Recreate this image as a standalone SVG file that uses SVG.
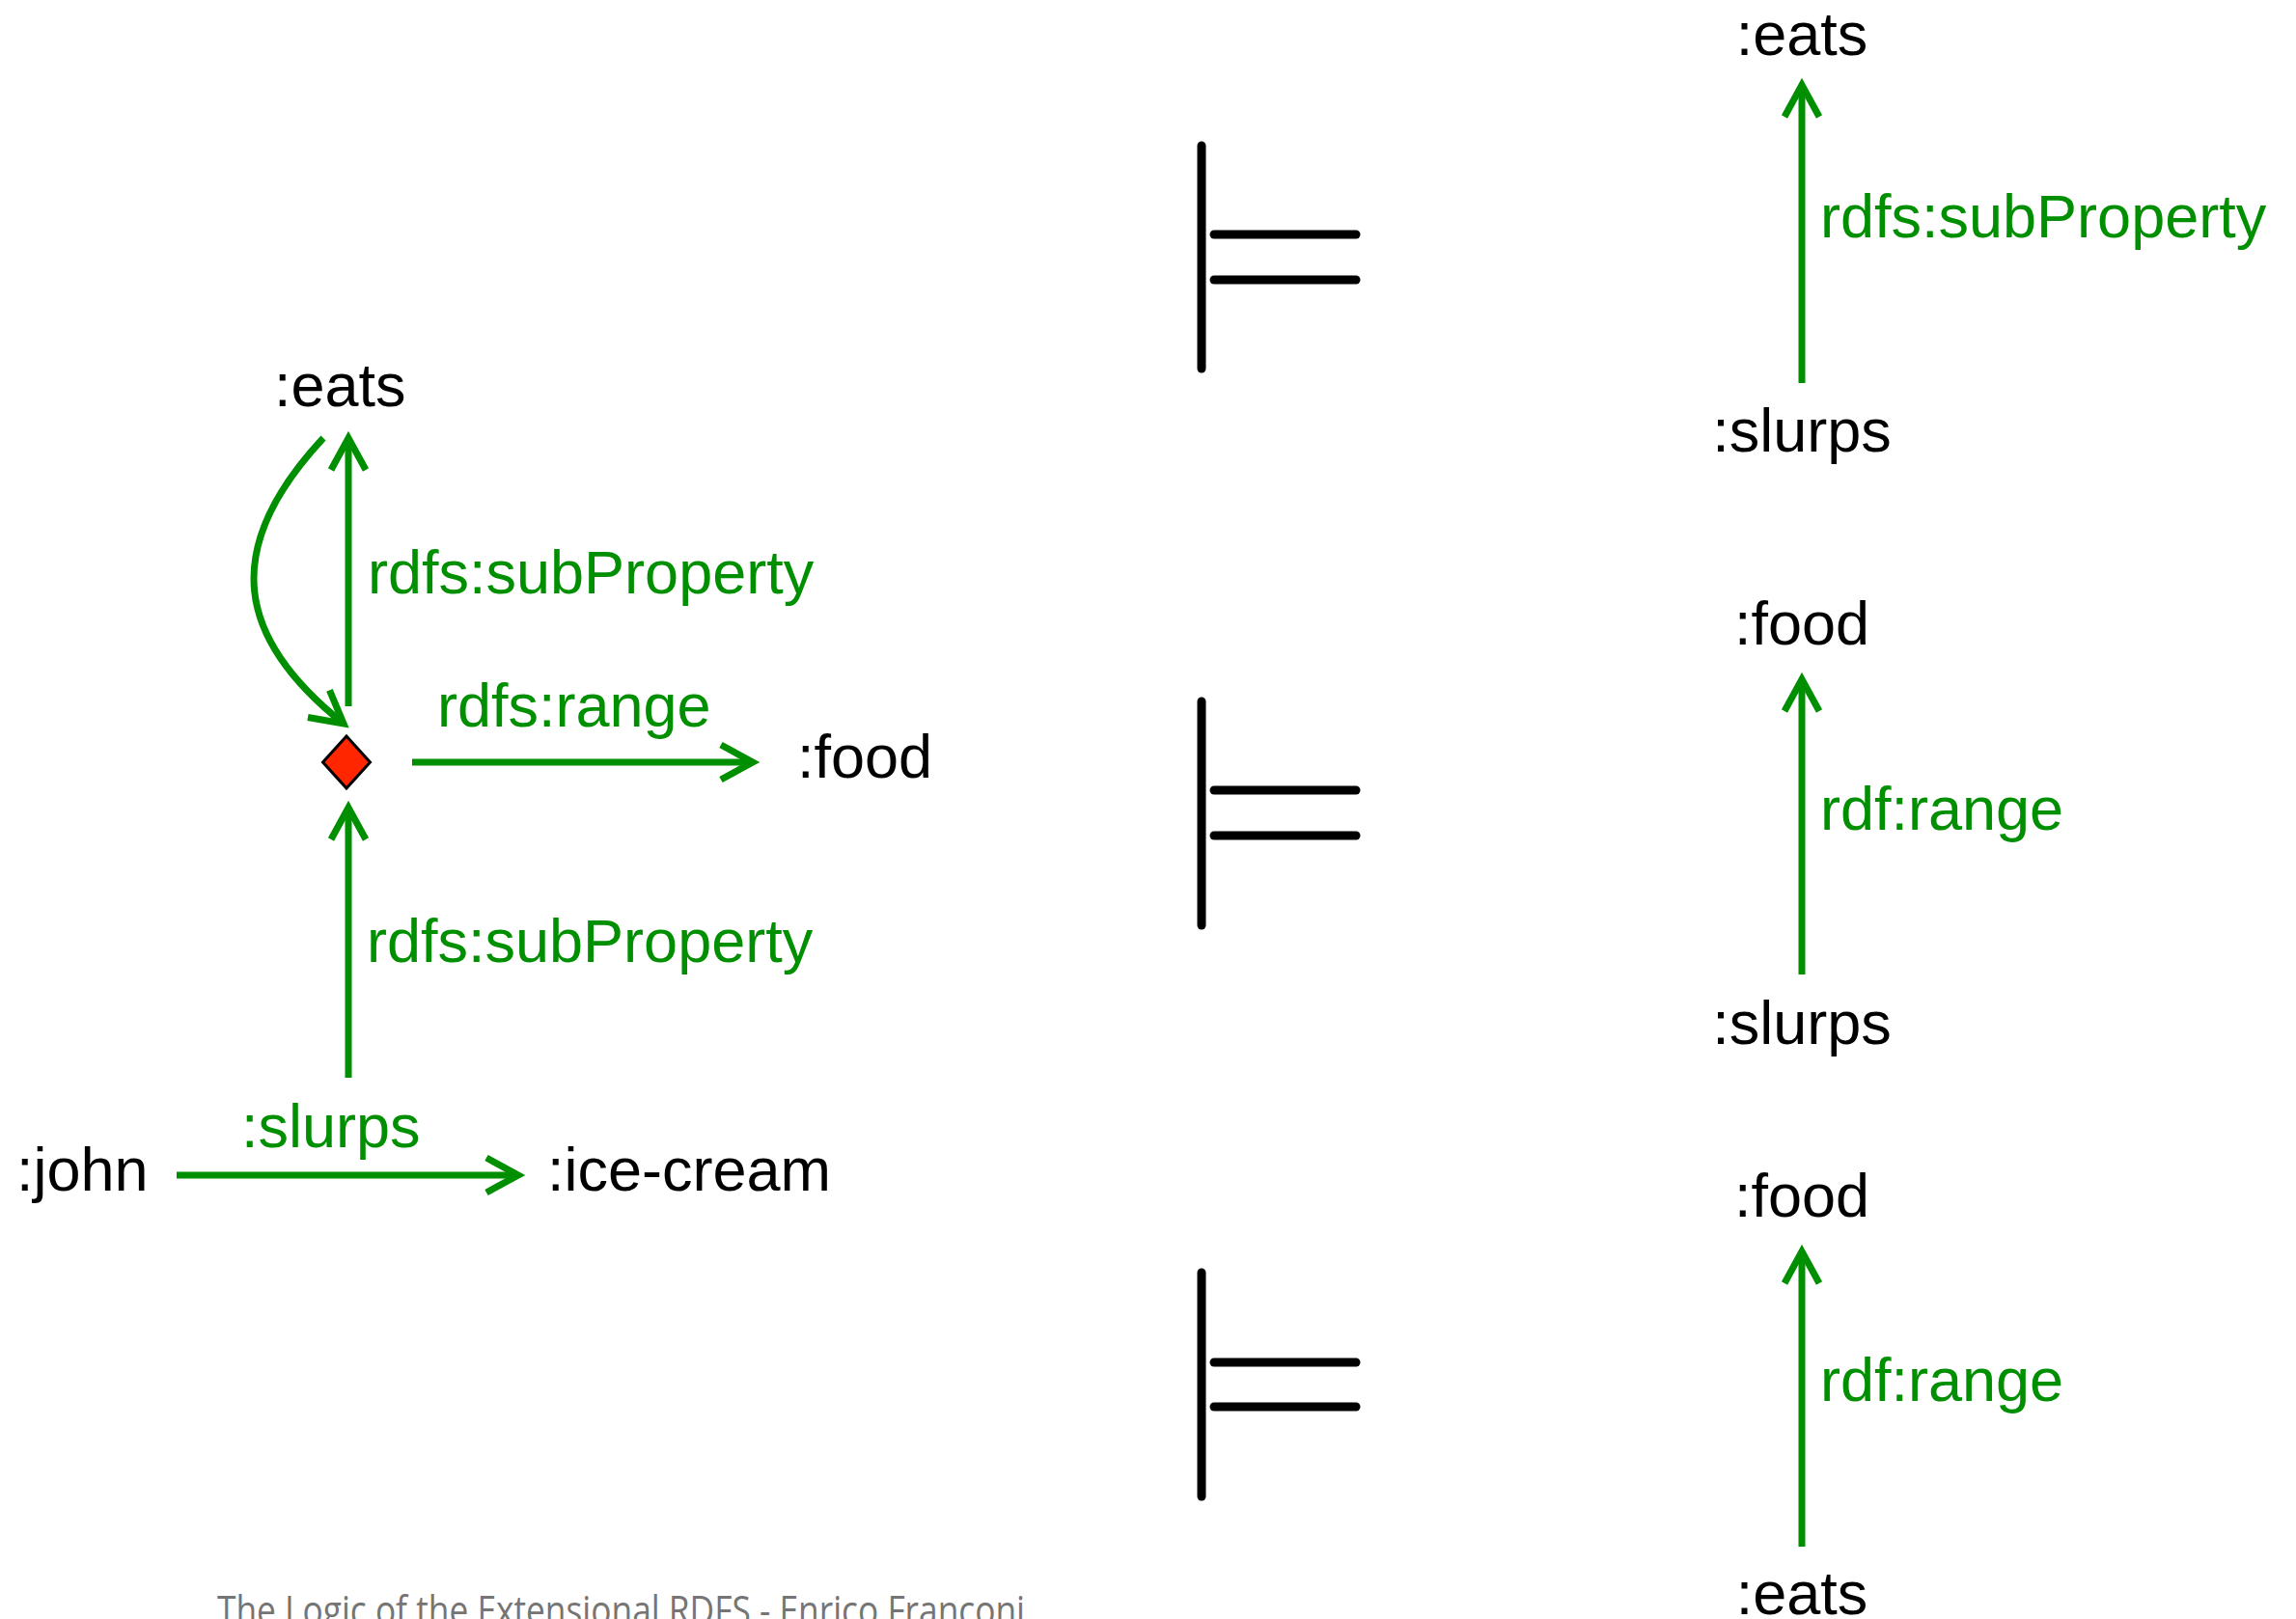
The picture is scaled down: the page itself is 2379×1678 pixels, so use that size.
<svg xmlns="http://www.w3.org/2000/svg" width="2379" height="1678" viewBox="0 0 2379 1678">
  <style>
    .node { font-family: "Liberation Sans", Arial, sans-serif; font-size: 63px; fill: #000000; }
    .lbl { font-family: "Liberation Sans", Arial, sans-serif; font-size: 63px; fill: #008F00; }
    .mid { text-anchor: middle; }
    .edge { fill: none; stroke: #008F00; stroke-width: 7; marker-end: url(#ah); }
    .ent { stroke: #000000; stroke-width: 9; stroke-linecap: round; fill: none; }
    .footer { font-family: "Open Sans", "Noto Sans", sans-serif; font-size: 42px; fill: #757575; }
  </style>
  <defs>
    <marker id="ah" markerUnits="userSpaceOnUse" markerWidth="80" markerHeight="80" refX="0" refY="0" orient="auto" style="overflow:visible">
      <path d="M-33,-18 L0,0 L-33,18" fill="none" stroke="#008F00" stroke-width="7" stroke-linejoin="miter"/>
    </marker>
  </defs>
  <rect x="0" y="0" width="2379" height="1678" fill="#ffffff"/>

  <!-- Connectors -->
  <g id="connectors">
    <path class="edge" d="M335,454 C226,571 247,663 356,750"/>
    <line class="edge" x1="361" y1="732" x2="361" y2="454"/>
    <line class="edge" x1="427" y1="790" x2="780" y2="790"/>
    <line class="edge" x1="361" y1="1117" x2="361" y2="837"/>
    <line class="edge" x1="183" y1="1218" x2="537" y2="1218"/>
    <line class="edge" x1="1867" y1="397" x2="1867" y2="88"/>
    <line class="edge" x1="1867" y1="1010" x2="1867" y2="704"/>
    <line class="edge" x1="1867" y1="1603" x2="1867" y2="1297"/>
  </g>

  <!-- Edge labels -->
  <g id="edge-labels">
    <text class="lbl" x="381" y="615">rdfs:subProperty</text>
    <text class="lbl" x="453" y="753">rdfs:range</text>
    <text class="lbl" x="380" y="997">rdfs:subProperty</text>
    <text class="lbl" x="250" y="1189">:slurps</text>
    <text class="lbl" x="1886" y="246">rdfs:subProperty</text>
    <text class="lbl" x="1886" y="860">rdf:range</text>
    <text class="lbl" x="1886" y="1452">rdf:range</text>
  </g>

  <!-- Left nodes -->
  <g id="node-eats-left"><text class="node" x="284" y="421">:eats</text></g>
  <g id="node-blank">
    <polygon points="359,763 383.5,790 359,817 334.5,790" fill="#FF2600" stroke="#000000" stroke-width="3"/>
  </g>
  <g id="node-food-left"><text class="node" x="826" y="806">:food</text></g>
  <g id="node-john"><text class="node" x="17" y="1234">:john</text></g>
  <g id="node-icecream"><text class="node" x="567" y="1234">:ice-cream</text></g>

  <!-- Entailment symbols -->
  <g id="entails-1">
    <line class="ent" x1="1245" y1="151" x2="1245" y2="382"/>
    <line class="ent" x1="1258" y1="243" x2="1405" y2="243"/>
    <line class="ent" x1="1258" y1="290" x2="1405" y2="290"/>
  </g>
  <g id="entails-2">
    <line class="ent" x1="1245" y1="727" x2="1245" y2="959"/>
    <line class="ent" x1="1258" y1="819" x2="1405" y2="819"/>
    <line class="ent" x1="1258" y1="866" x2="1405" y2="866"/>
  </g>
  <g id="entails-3">
    <line class="ent" x1="1245" y1="1319" x2="1245" y2="1551"/>
    <line class="ent" x1="1258" y1="1412" x2="1405" y2="1412"/>
    <line class="ent" x1="1258" y1="1458" x2="1405" y2="1458"/>
  </g>

  <!-- Right nodes -->
  <g id="node-eats-r1"><text class="node mid" x="1867" y="57">:eats</text></g>
  <g id="node-slurps-r1"><text class="node mid" x="1867" y="468">:slurps</text></g>
  <g id="node-food-r2"><text class="node mid" x="1867" y="668">:food</text></g>
  <g id="node-slurps-r2"><text class="node mid" x="1867" y="1082">:slurps</text></g>
  <g id="node-food-r3"><text class="node mid" x="1867" y="1261">:food</text></g>
  <g id="node-eats-r3"><text class="node mid" x="1867" y="1673">:eats</text></g>

  <!-- Footer -->
  <text class="footer" x="225" y="1684" textLength="837" lengthAdjust="spacingAndGlyphs">The Logic of the Extensional RDFS - Enrico Franconi</text>
</svg>
